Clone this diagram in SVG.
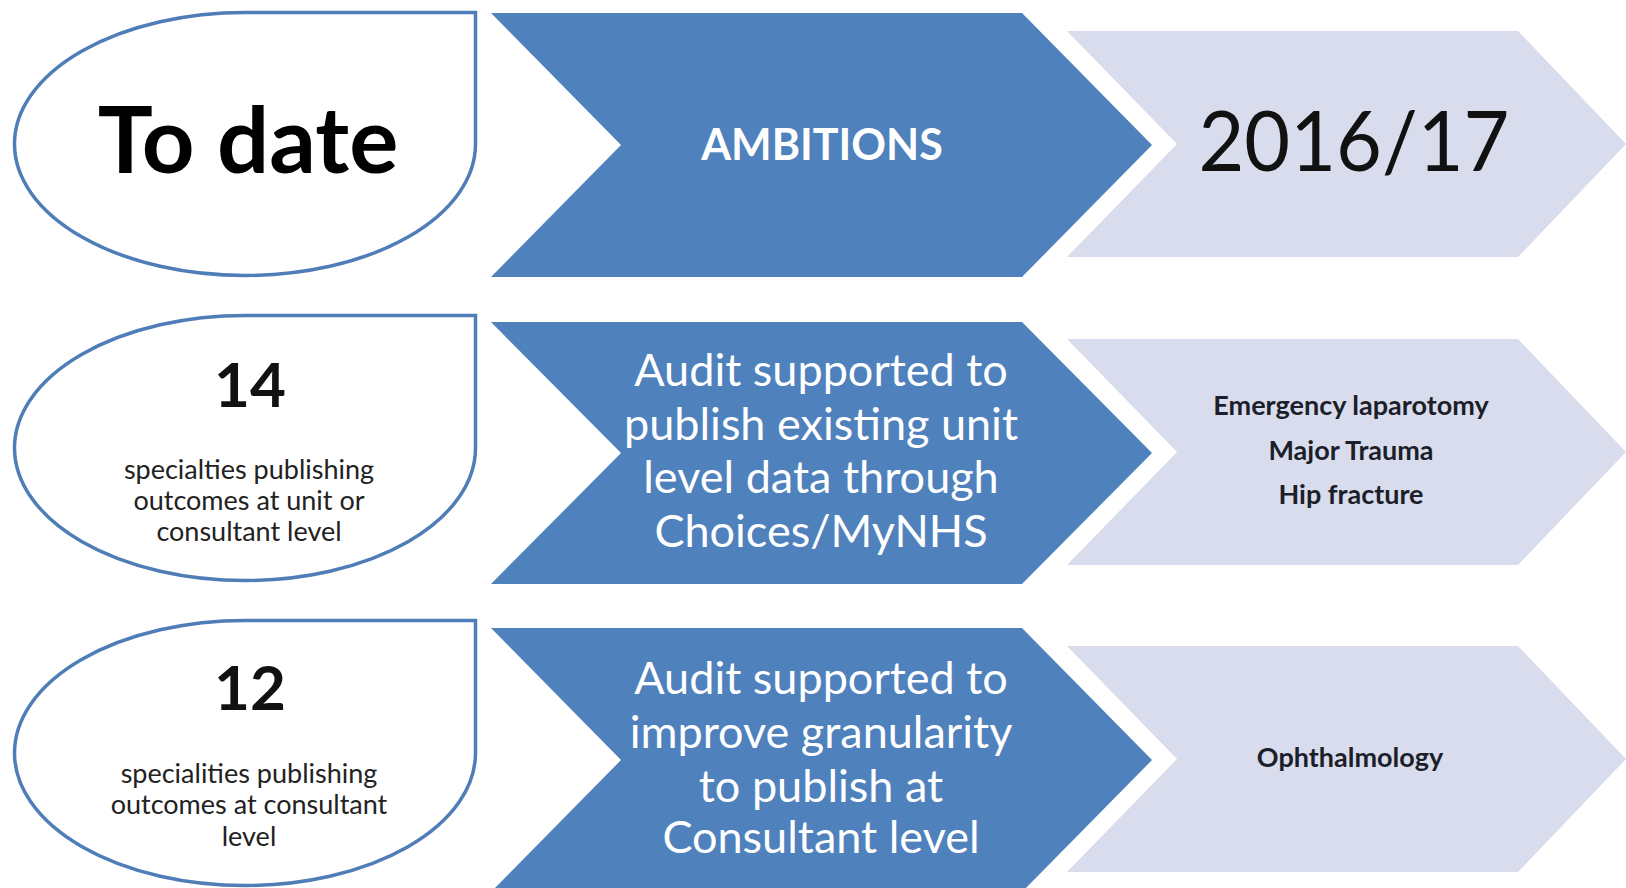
<svg xmlns="http://www.w3.org/2000/svg" width="1626" height="888" viewBox="0 0 1626 888">
<style>
.oval{fill:#ffffff;stroke:#4F7DB8;stroke-width:3.5}
.blue{fill:#4F81BD}
.light{fill:#D8DCEC}
.t{font-family:Lato,"Open Sans","Liberation Sans",sans-serif;text-anchor:middle}
.big{font-size:92px;font-weight:700;fill:#000}
.num{font-size:62px;font-weight:700;fill:#111}
.small{font-size:27px;fill:#222}
.amb{font-size:43px;font-weight:700;fill:#ffffff}
.wt{font-size:45px;fill:#ffffff}
.year{font-size:84px;fill:#111}
.lt{font-size:27px;font-weight:700;fill:#1c1f2a}
</style>
<rect x="0" y="0" width="1626" height="888" fill="#ffffff"/>
<g id="connectors"/>

<g id="todate">
<path class="oval" d="M14.5,144 A230.5,131.5 0 0 1 245,12.5 L475.5,12.5 L475.5,144 A230.5,131.5 0 0 1 245,275.5 A230.5,131.5 0 0 1 14.5,144 Z"/>
<text class="t big" x="248" y="173">To date</text>
</g>
<g id="ambitions">
<polygon class="blue" points="491,13 1022,13 1152,145 1022,277 491,277 621,145"/>
<text class="t amb" x="822" y="160">AMBITIONS</text>
</g>
<g id="year">
<polygon class="light" points="1067,31 1518,31 1626,144 1518,257 1067,257 1177,144"/>
<text class="t year" x="1354" y="171" textLength="311" lengthAdjust="spacingAndGlyphs">2016/17</text>
</g>

<g id="count14">
<path class="oval" d="M14.5,448 A230.5,132.5 0 0 1 245,315.5 L475.5,315.5 L475.5,448 A230.5,132.5 0 0 1 245,580.5 A230.5,132.5 0 0 1 14.5,448 Z"/>
<text class="t num" x="250" y="407">14</text>
<text class="t small" x="249" y="479">specialties publishing</text>
<text class="t small" x="249" y="510">outcomes at unit or</text>
<text class="t small" x="249" y="541">consultant level</text>
</g>
<g id="ambition-unit">
<polygon class="blue" points="491,322 1022,322 1152,453 1022,584 491,584 621,453"/>
<text class="t wt" x="821" y="386">Audit supported to</text>
<text class="t wt" x="821" y="440">publish existing unit</text>
<text class="t wt" x="821" y="493">level data through</text>
<text class="t wt" x="821" y="547">Choices/MyNHS</text>
</g>
<g id="year-unit">
<polygon class="light" points="1067,339 1518,339 1626,452 1518,565 1067,565 1177,452"/>
<text class="t lt" x="1351" y="415">Emergency laparotomy</text>
<text class="t lt" x="1351" y="460">Major Trauma</text>
<text class="t lt" x="1351" y="504">Hip fracture</text>
</g>

<g id="count12">
<path class="oval" d="M14.5,753 A230.5,132.5 0 0 1 245,620.5 L475.5,620.5 L475.5,753 A230.5,132.5 0 0 1 245,885.5 A230.5,132.5 0 0 1 14.5,753 Z"/>
<text class="t num" x="250" y="710">12</text>
<text class="t small" x="249" y="783">specialities publishing</text>
<text class="t small" x="249" y="814">outcomes at consultant</text>
<text class="t small" x="249" y="846">level</text>
</g>
<g id="ambition-consultant">
<polygon class="blue" points="491,628 1022,628 1152,760 1022,892 491,892 621,760"/>
<text class="t wt" x="821" y="694">Audit supported to</text>
<text class="t wt" x="821" y="748">improve granularity</text>
<text class="t wt" x="821" y="802">to publish at</text>
<text class="t wt" x="821" y="853">Consultant level</text>
</g>
<g id="year-consultant">
<polygon class="light" points="1067,646 1518,646 1626,759 1518,872 1067,872 1177,759"/>
<text class="t lt" x="1350" y="767">Ophthalmology</text>
</g>
</svg>
